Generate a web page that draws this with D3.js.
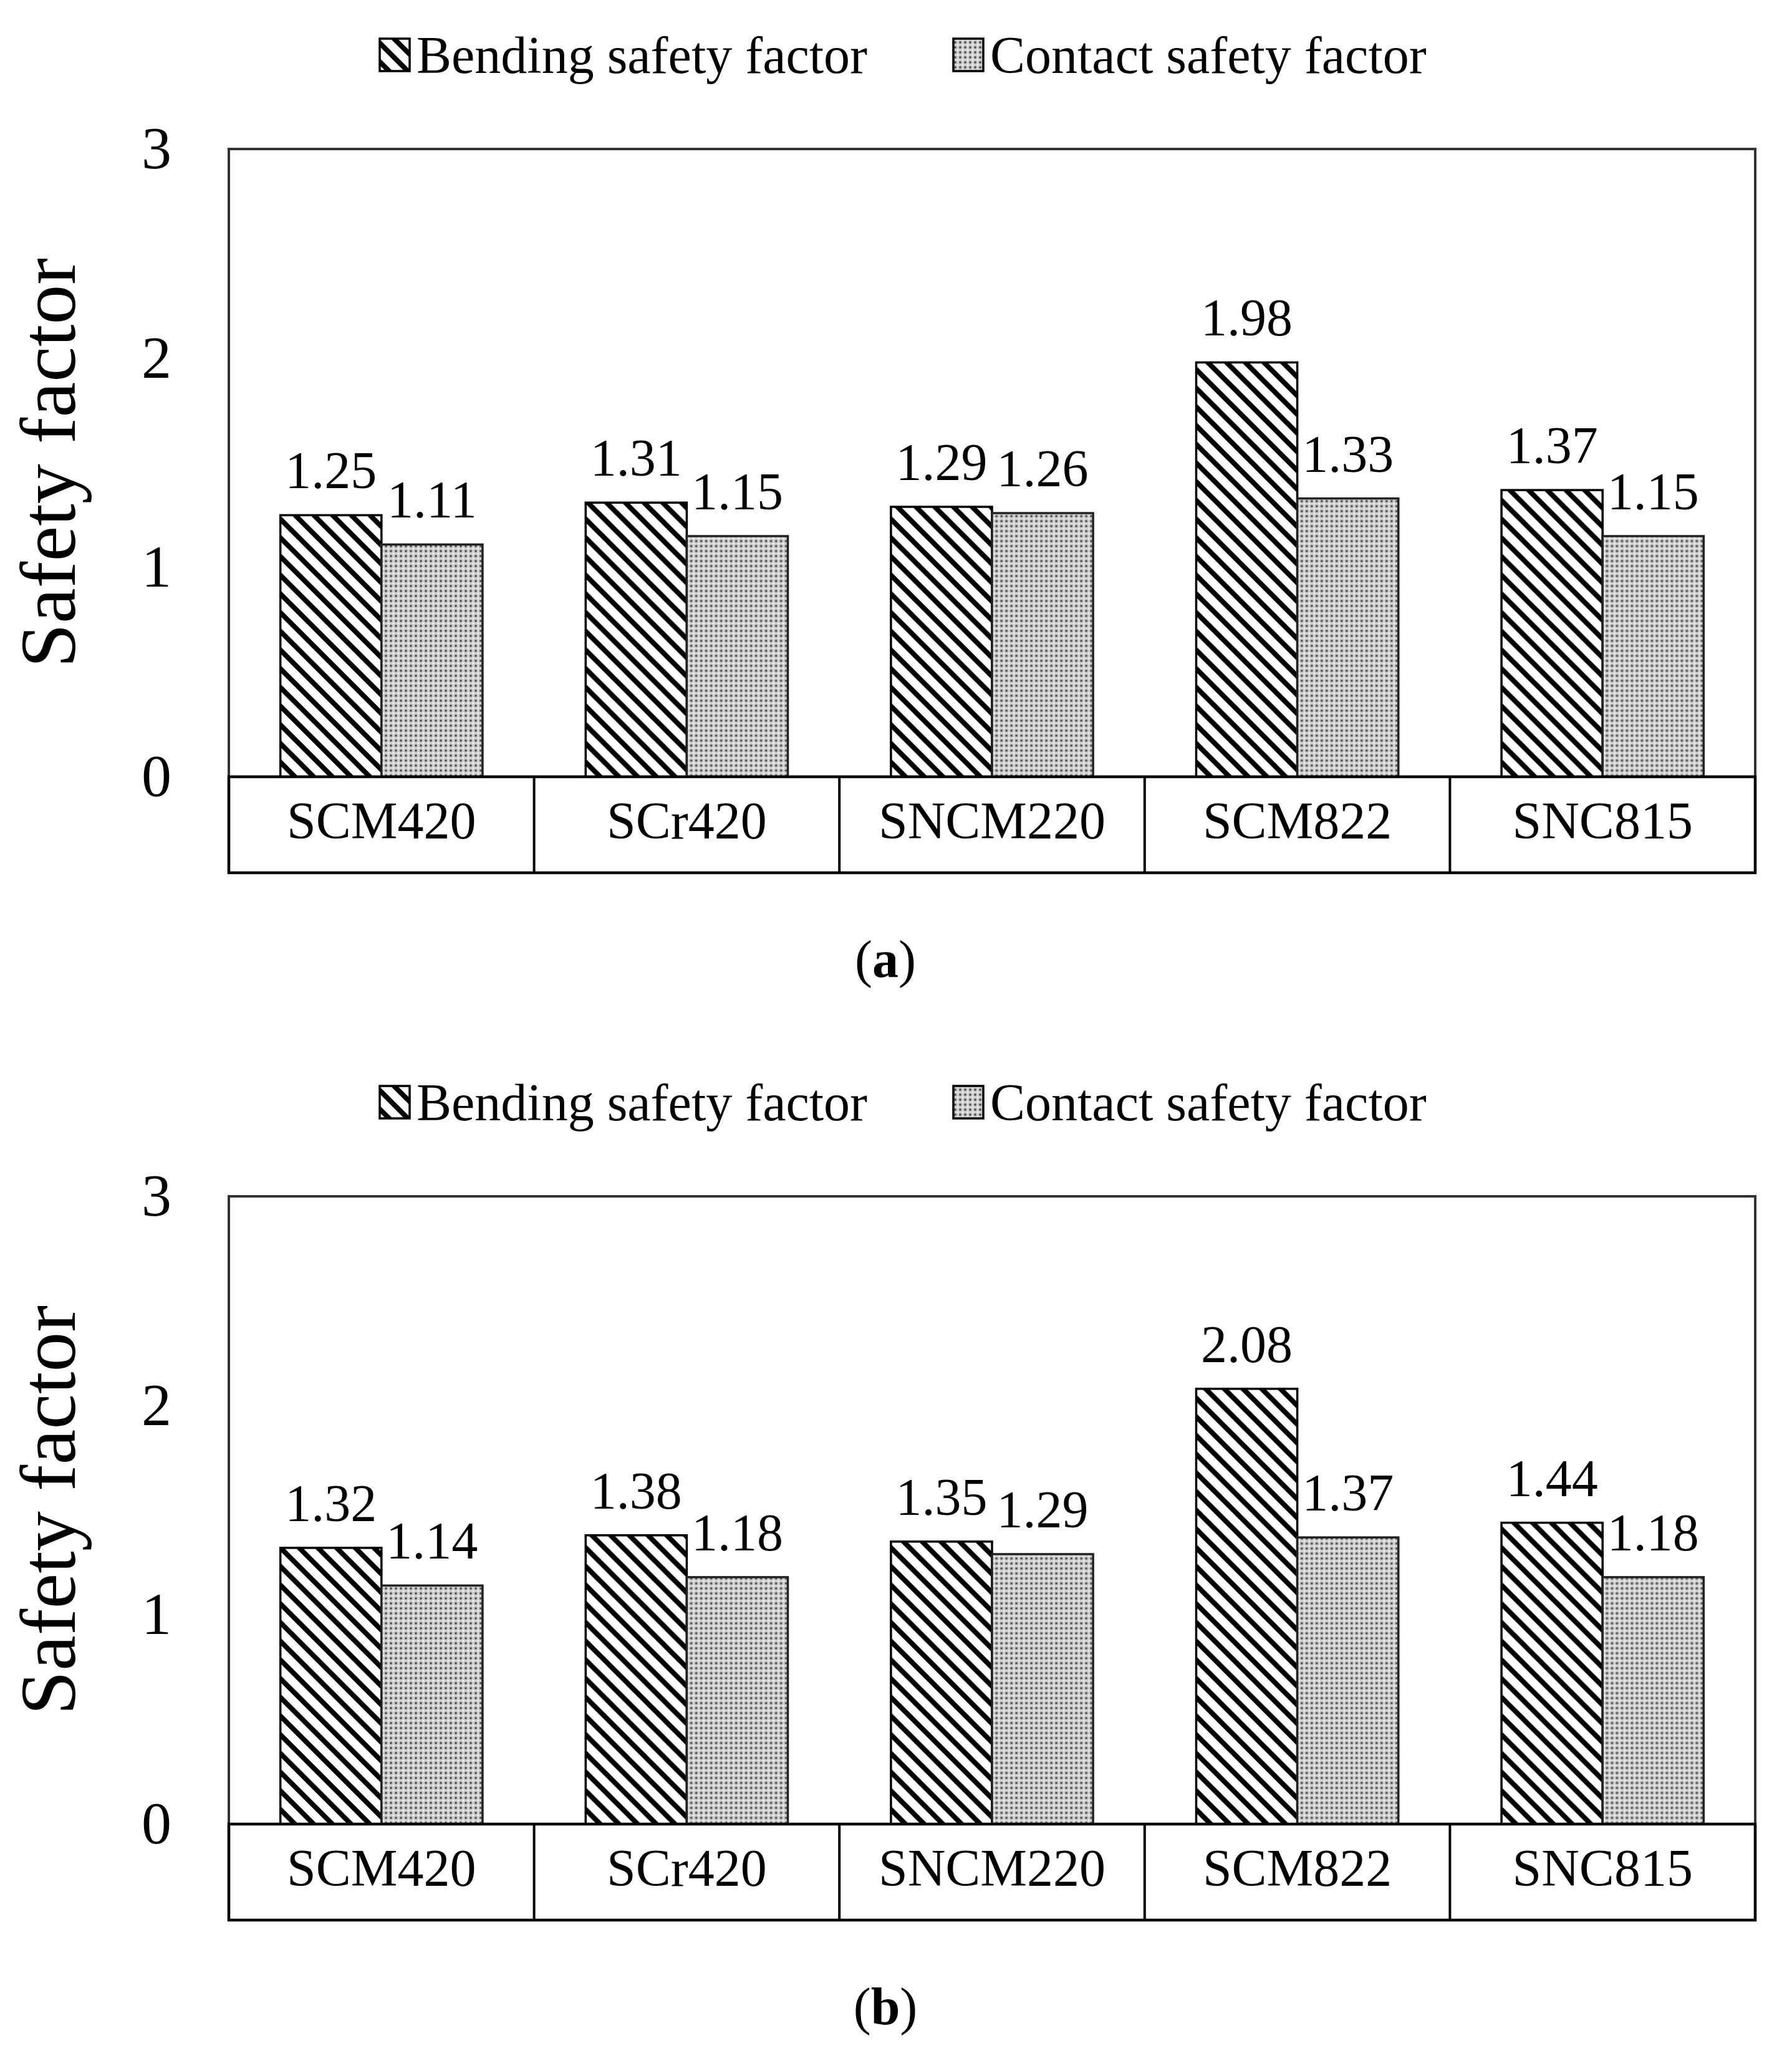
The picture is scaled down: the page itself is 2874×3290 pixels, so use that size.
<!DOCTYPE html>
<html>
<head>
<meta charset="utf-8">
<script src="https://cdn.jsdelivr.net/npm/d3@7/dist/d3.min.js"></script>
<style>
  html, body { margin: 0; padding: 0; background: #ffffff; }
  svg { display: block; }
  text { font-family: "Liberation Serif", "Times New Roman", serif; fill: #000; }
</style>
</head>
<body>
<svg id="chart" width="2874" height="3290"></svg>
<script>
// ---- data ----
const categories = ["SCM420", "SCr420", "SNCM220", "SCM822", "SNC815"];
const seriesNames = ["Bending safety factor", "Contact safety factor"];
const bendingA = [1.25, 1.31, 1.29, 1.98, 1.37];
const contactA = [1.11, 1.15, 1.26, 1.33, 1.15];
const bendingB = [1.32, 1.38, 1.35, 2.08, 1.44];
const contactB = [1.14, 1.18, 1.29, 1.37, 1.18];
const yTicks = [0, 1, 2, 3];
const panelLabels = ["a", "b"];
const yTitle = "Safety factor";

// ---- layout ----
const W = 2874, H = 3290;
const plotLeft = 367, plotRight = 2815, plotTop = 239, plotZero = 1246, tableBottom = 1400;
const panelOffset = 1680;

const svg = d3.select("#chart");
svg.append("rect").attr("width", W).attr("height", H).attr("fill", "#fff");

const defs = svg.append("defs");
// wide downward diagonal hatch
const hatch = defs.append("pattern")
  .attr("id", "hatch").attr("patternUnits", "userSpaceOnUse")
  .attr("width", 30).attr("height", 30);
hatch.append("rect").attr("width", 30).attr("height", 30).attr("fill", "#fff");
hatch.append("path")
  .attr("d", "M-8,-8 L38,38 M-38,-8 L8,38 M22,-8 L68,38")
  .attr("stroke", "#000").attr("stroke-width", 8);
// fine dotted fill
const dots = defs.append("pattern")
  .attr("id", "dots").attr("patternUnits", "userSpaceOnUse")
  .attr("width", 8).attr("height", 8);
dots.append("rect").attr("width", 8).attr("height", 8).attr("fill", "#cecece");
dots.append("circle").attr("cx", 4).attr("cy", 4).attr("r", 2).attr("fill", "#585858");
[[0,0],[8,0],[0,8],[8,8]].forEach(([cx,cy]) =>
  dots.append("circle").attr("cx", cx).attr("cy", cy).attr("r", 1.4).attr("fill", "#f4f4f4"));

const fills = ["url(#hatch)", "url(#dots)"];
const strokes = ["#000", "#222"];

const x = d3.scaleBand().domain(categories).range([plotLeft, plotRight]).paddingInner(0).paddingOuter(0);
const xs = d3.scaleBand().domain(seriesNames).range([0, x.bandwidth()]).paddingInner(0).paddingOuter(0.51);
const y = d3.scaleLinear().domain([0, 3]).range([plotZero, plotTop]);

function drawPanel(offset, bending, contact, label) {
  const g = svg.append("g").attr("transform", `translate(0,${offset})`);
  const data = categories.map((c, i) => ({ cat: c, vals: [bending[i], contact[i]] }));

  // legend
  const legendItems = [
    { name: seriesNames[0], box: 609, tx: 668 },
    { name: seriesNames[1], box: 1529, tx: 1588 }
  ];
  legendItems.forEach((d, i) => {
    g.append("rect").attr("x", d.box).attr("y", 62).attr("width", 48).attr("height", 52)
      .attr("fill", fills[i]).attr("stroke", "#000").attr("stroke-width", 3.5);
    g.append("text").attr("x", d.tx).attr("y", 117).attr("font-size", 84).text(d.name);
  });

  // plot border
  g.append("rect").attr("x", plotLeft).attr("y", plotTop)
    .attr("width", plotRight - plotLeft).attr("height", plotZero - plotTop)
    .attr("fill", "none").attr("stroke", "#333").attr("stroke-width", 4);

  // bars
  const groups = g.selectAll("g.grp").data(data).enter().append("g")
    .attr("class", "grp").attr("transform", d => `translate(${x(d.cat)},0)`);
  groups.selectAll("rect.bar").data(d => d.vals.map((v, i) => ({ v, s: seriesNames[i], i })))
    .enter().append("rect").attr("class", "bar")
    .attr("x", d => xs(d.s)).attr("width", xs.bandwidth())
    .attr("y", d => y(d.v)).attr("height", d => y(0) - y(d.v))
    .attr("fill", d => fills[d.i]).attr("stroke", d => strokes[d.i]).attr("stroke-width", 3.5);
  groups.selectAll("text.val").data(d => d.vals.map((v, i) => ({ v, s: seriesNames[i], i })))
    .enter().append("text").attr("class", "val")
    .attr("x", d => xs(d.s) + xs.bandwidth() / 2).attr("y", d => y(d.v) - 43)
    .attr("text-anchor", "middle").attr("font-size", 84)
    .text(d => d3.format(".2f")(d.v));

  // y axis tick labels
  g.selectAll("text.tick").data(yTicks).enter().append("text").attr("class", "tick")
    .attr("x", 275).attr("y", d => y(d) + 31).attr("text-anchor", "end")
    .attr("font-size", 96).text(d => d);

  // y title
  g.append("text").attr("transform", `translate(120,${(plotTop + plotZero) / 2}) rotate(-90)`)
    .attr("text-anchor", "middle").attr("font-size", 128).text(yTitle);

  // category table
  g.append("rect").attr("x", plotLeft).attr("y", plotZero)
    .attr("width", plotRight - plotLeft).attr("height", tableBottom - plotZero)
    .attr("fill", "none").attr("stroke", "#000").attr("stroke-width", 4.5);
  g.selectAll("line.div").data(categories.slice(1)).enter().append("line").attr("class", "div")
    .attr("x1", d => x(d)).attr("x2", d => x(d)).attr("y1", plotZero).attr("y2", tableBottom)
    .attr("stroke", "#000").attr("stroke-width", 4);
  g.selectAll("text.cat").data(categories).enter().append("text").attr("class", "cat")
    .attr("x", d => x(d) + x.bandwidth() / 2).attr("y", 1345)
    .attr("text-anchor", "middle").attr("font-size", 84).text(d => d);

  // panel label
  const pl = g.append("text").attr("x", 1420).attr("y", 1567).attr("text-anchor", "middle").attr("font-size", 84);
  pl.append("tspan").text("(");
  pl.append("tspan").attr("font-weight", "bold").text(label);
  pl.append("tspan").text(")");
}

drawPanel(0, bendingA, contactA, panelLabels[0]);
drawPanel(panelOffset, bendingB, contactB, panelLabels[1]);
</script>
</body>
</html>
